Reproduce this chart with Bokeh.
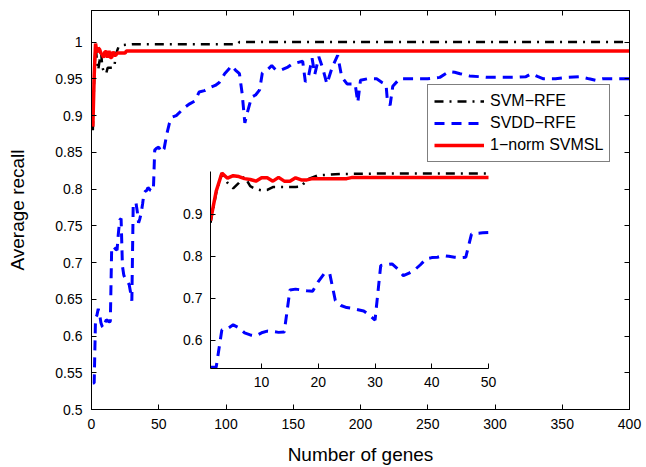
from bokeh.plotting import figure
from bokeh.models import Range1d, LinearAxis, FixedTicker, Legend, LegendItem, NumeralTickFormatter
from bokeh.embed import file_html
from bokeh.resources import INLINE

FONT = "Liberation Sans"

# ---------------- data ----------------
svm_genes = [1, 2, 3, 4, 5, 6, 7, 8, 9, 10, 11, 12, 14, 16, 17, 18, 20, 24, 30, 60, 108, 110, 400]
svm_recall = [0.88, 0.951, 0.998, 0.975, 0.962, 0.975, 0.99, 0.967, 0.96, 0.957, 0.958, 0.965,
              0.965, 0.965, 0.966, 0.983, 0.993, 0.996, 0.997, 0.997, 0.997, 1.0, 1.0]

svdd_genes = list(range(1, 51)) + [
    52, 54, 56, 58, 60, 63, 67, 70, 73, 77, 80, 84, 88, 92, 95, 99, 102, 104, 107, 110,
    112, 114, 116, 119, 122, 125, 127, 130, 134, 137, 141, 146, 149, 153, 157, 159, 161,
    164, 166, 169, 172, 175, 179, 183, 186, 190, 196, 198, 200, 205, 212, 216, 219, 220,
    222, 224, 229, 240, 250, 259, 266, 270, 274, 281, 288, 294, 304, 316, 323, 327, 332,
    336, 345, 354, 363, 370, 375, 380, 393, 400]
svdd_recall = [
    0.536, 0.536, 0.625, 0.628, 0.637, 0.630, 0.618, 0.613, 0.611, 0.618,
    0.622, 0.621, 0.619, 0.620, 0.720, 0.722, 0.720, 0.718, 0.717, 0.740,
    0.758, 0.760, 0.695, 0.683, 0.678, 0.676, 0.673, 0.670, 0.660, 0.648,
    0.778, 0.780, 0.782, 0.770, 0.754, 0.760, 0.768, 0.780, 0.794, 0.797,
    0.798, 0.802, 0.800, 0.798, 0.797, 0.798, 0.853, 0.855, 0.856, 0.857,
    0.850, 0.855, 0.875, 0.890, 0.898, 0.900, 0.907, 0.912, 0.916, 0.920,
    0.932, 0.934, 0.938, 0.941, 0.945, 0.957, 0.963, 0.968, 0.962, 0.957,
    0.930, 0.890, 0.905, 0.925, 0.928, 0.935, 0.958, 0.961, 0.968, 0.962,
    0.962, 0.966, 0.970, 0.972, 0.974, 0.946, 0.950, 0.978, 0.956, 0.980,
    0.964, 0.943, 0.966, 0.982, 0.953, 0.943, 0.943, 0.918, 0.948, 0.950,
    0.950, 0.945, 0.942, 0.920, 0.914, 0.940, 0.950, 0.950, 0.950, 0.952,
    0.960, 0.959, 0.957, 0.954, 0.953, 0.952, 0.952, 0.952, 0.953, 0.957,
    0.953, 0.950, 0.950, 0.952, 0.953, 0.950, 0.948, 0.950, 0.950, 0.950]

svmsl_genes = [1, 2, 3, 4, 5, 6, 7, 8, 9, 10, 11, 12, 13, 14, 15, 16, 17, 18, 19, 25, 26, 400]
svmsl_recall = [0.885, 0.955, 0.998, 0.986, 0.992, 0.990, 0.985, 0.983, 0.979, 0.987, 0.987,
                0.979, 0.988, 0.979, 0.979, 0.987, 0.982, 0.982, 0.985, 0.985, 0.988, 0.988]

series_labels = ["SVM\u2212RFE", "SVDD\u2212RFE", "1\u2212norm SVMSL"]

x_ticks = [0, 50, 100, 150, 200, 250, 300, 350, 400]
y_ticks = [0.5, 0.55, 0.6, 0.65, 0.7, 0.75, 0.8, 0.85, 0.9, 0.95, 1.0]
inset_x_ticks = [10, 20, 30, 40, 50]
inset_y_ticks = [0.6, 0.7, 0.8, 0.9]

x_label = "Number of genes"
y_label = "Average recall"

# ---------------- styles ----------------
BLACK_STYLE = dict(line_color="black", line_width=2.5, line_dash="9 6 2 6")
BLUE_STYLE = dict(line_color="#0000ff", line_width=3, line_dash="10 7")
RED_STYLE = dict(line_color="#ff0000", line_width=3.5)


def style_axis(ax, size="14px"):
    ax.major_tick_in = 5
    ax.major_tick_out = 0
    ax.minor_tick_line_color = None
    ax.major_tick_line_color = "black"
    ax.axis_line_color = "black"
    ax.major_label_text_font = FONT
    ax.major_label_text_font_size = size
    ax.major_label_text_color = "black"
    ax.axis_label_text_font = FONT
    ax.axis_label_text_font_size = "19px"
    ax.axis_label_text_font_style = "normal"
    ax.axis_label_text_color = "black"


# ---------------- main figure ----------------
p = figure(width=646, height=467, output_backend="svg", toolbar_location=None,
           x_range=Range1d(0, 400), y_range=Range1d(0.5, 1.043),
           min_border_left=91, min_border_right=17, min_border_top=10, min_border_bottom=58)
p.xgrid.visible = False
p.ygrid.visible = False
p.outline_line_color = "black"
p.outline_line_width = 1

p.xaxis.ticker = FixedTicker(ticks=x_ticks)
p.yaxis.ticker = FixedTicker(ticks=y_ticks)
p.yaxis.formatter = NumeralTickFormatter(format="0.[00]")
p.xaxis.axis_label = x_label
p.yaxis.axis_label = y_label
for ax in p.xaxis + p.yaxis:
    style_axis(ax)
p.xaxis.major_label_standoff = 9
p.yaxis.major_label_standoff = 9
p.xaxis.axis_label_standoff = 12
p.yaxis.axis_label_standoff = 24

top_ax = LinearAxis(ticker=FixedTicker(ticks=x_ticks), major_label_text_font_size="1px",
                    major_label_text_color=None, major_label_standoff=0)
right_ax = LinearAxis(ticker=FixedTicker(ticks=y_ticks), major_label_text_font_size="1px",
                      major_label_text_color=None, major_label_standoff=0)
for ax in (top_ax, right_ax):
    ax.major_tick_in = 5
    ax.major_tick_out = 0
    ax.minor_tick_line_color = None
    ax.axis_line_color = "black"
p.add_layout(top_ax, "above")
p.add_layout(right_ax, "right")

r_svm = p.line(svm_genes, svm_recall, **BLACK_STYLE)
r_svdd = p.line(svdd_genes, svdd_recall, **BLUE_STYLE)
r_red = p.line(svmsl_genes, svmsl_recall, **RED_STYLE)

legend = Legend(items=[LegendItem(label=series_labels[0], renderers=[r_svm]),
                       LegendItem(label=series_labels[1], renderers=[r_svdd]),
                       LegendItem(label=series_labels[2], renderers=[r_red])],
                location=(336, 247), padding=6, spacing=2, label_height=20, glyph_height=20,
                glyph_width=50, label_standoff=6, margin=0,
                label_text_font=FONT, label_text_font_size="16px", label_text_color="black",
                border_line_color="black", border_line_width=1, background_fill_color="white",
                background_fill_alpha=1)
p.add_layout(legend)

# ---------------- inset ----------------
ins = figure(width=328, height=232, output_backend="svg", toolbar_location=None,
             x_range=Range1d(1, 50), y_range=Range1d(0.533, 1.002),
             min_border_left=40, min_border_right=10, min_border_top=5, min_border_bottom=30,
             background_fill_alpha=0, border_fill_alpha=0, outline_line_color=None)
ins.styles = {"position": "absolute", "left": "170px", "top": "166px"}
ins.xgrid.visible = False
ins.ygrid.visible = False
ins.xaxis.ticker = FixedTicker(ticks=inset_x_ticks)
ins.yaxis.ticker = FixedTicker(ticks=inset_y_ticks)
ins.yaxis.formatter = NumeralTickFormatter(format="0.[00]")
for ax in ins.xaxis + ins.yaxis:
    style_axis(ax)
ins.xaxis.major_label_standoff = 8
ins.yaxis.major_label_standoff = 8

ins_n = 50
ins.line(svm_genes[:20], svm_recall[:20], **BLACK_STYLE)
ins.line(svdd_genes[:ins_n], svdd_recall[:ins_n], **BLUE_STYLE)
ins.line(svmsl_genes, svmsl_recall, **RED_STYLE)

open("out.html", "w").write(file_html([p, ins], INLINE))
